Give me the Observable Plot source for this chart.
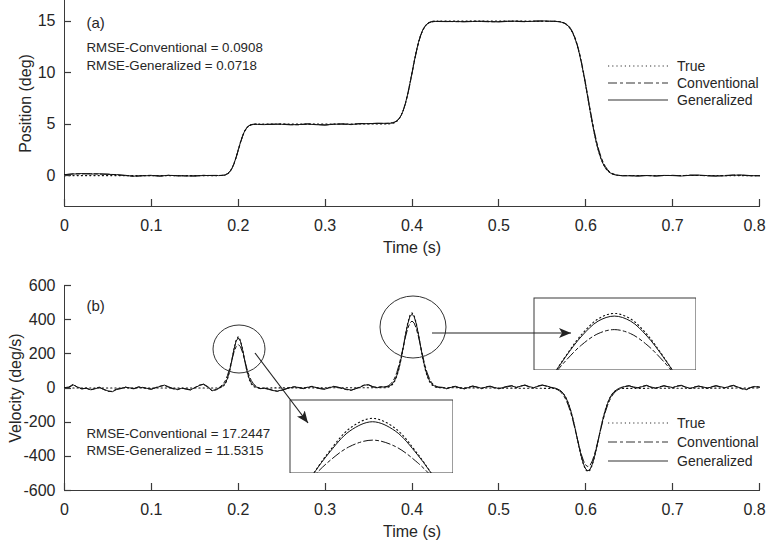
<!DOCTYPE html>
<html><head><meta charset="utf-8">
<script src="https://cdn.jsdelivr.net/npm/d3@7"></script>
<script src="https://cdn.jsdelivr.net/npm/@observablehq/plot@0.6"></script>
<style>
body{margin:0;background:#fff;}
#wrap{position:relative;width:769px;height:541px;font-family:"Liberation Sans",Arial,sans-serif;color:#262626;overflow:hidden}
#wrap > div, #wrap > svg {position:absolute;}
</style></head><body><div id="wrap"></div>
<script>
// ---------- tick labels / categories ----------
const xTicks = [0,0.1,0.2,0.3,0.4,0.5,0.6,0.7,0.8];
const posTicks = [0,5,10,15];
const velTicks = [-600,-400,-200,0,200,400,600];
const seriesNames = ["True","Conventional","Generalized"];
const panelLabels = ["(a)","(b)"];
const rmseTop = ["RMSE-Conventional = 0.0908","RMSE-Generalized = 0.0718"];
const rmseBottom = ["RMSE-Conventional = 17.2447","RMSE-Generalized = 11.5315"];

// ---------- position (deg) ----------
const posT = [0,0.01,0.02,0.03,0.04,0.05,0.06,0.07,0.08,0.09,0.1,0.11,0.12,0.13,0.14,0.15,0.16,0.17,
0.175,0.1775,0.18,0.1825,0.185,0.1875,0.19,0.1925,0.195,0.1975,0.2,0.2025,0.205,0.2075,0.21,0.2125,0.215,0.2175,0.22,0.2225,0.225,
0.23,0.24,0.25,0.26,0.27,0.28,0.29,0.3,0.31,0.32,0.33,0.34,0.35,0.36,
0.37,0.3725,0.375,0.3775,0.38,0.3825,0.385,0.3875,0.39,0.3925,0.395,0.3975,0.4,0.4025,0.405,0.4075,0.41,0.4125,0.415,0.4175,0.42,0.4225,0.425,0.4275,0.43,
0.44,0.45,0.46,0.47,0.48,0.49,0.5,0.51,0.52,0.53,0.54,0.55,0.56,
0.5625,0.565,0.5675,0.57,0.5725,0.575,0.5775,0.58,0.5825,0.585,0.5875,0.59,0.5925,0.595,0.5975,0.6,0.6025,0.605,0.6075,0.61,0.6125,0.615,0.6175,0.62,0.6225,0.625,0.6275,0.63,0.6325,0.635,0.6375,0.64,0.6425,
0.65,0.66,0.67,0.68,0.69,0.7,0.71,0.72,0.73,0.74,0.75,0.76,0.77,0.78,0.79,0.8];
const posGen = [0.1,0.15,0.2,0.15,0.18,0.12,0.1,0.0,-0.05,-0.02,0.0,-0.03,0.02,0.0,-0.04,-0.02,0.0,0.02,
0.02,0.0,0.01,0.03,0.07,0.16,0.34,0.65,1.13,1.77,2.5,3.23,3.87,4.35,4.67,4.85,4.93,4.96,4.98,4.97,4.96,
4.95,5.0,4.98,4.93,4.96,5.0,4.94,4.92,4.98,5.02,4.97,5.03,5.05,5.06,
5.08,5.07,5.09,5.12,5.18,5.3,5.5,5.84,6.35,7.04,7.9,8.9,9.98,11.07,12.08,12.95,13.64,14.15,14.5,14.72,14.85,14.92,14.95,14.97,14.96,
14.95,14.97,14.93,14.96,14.99,14.95,14.92,14.97,15.0,14.96,14.98,15.02,14.99,
14.98,14.97,14.95,14.93,14.88,14.8,14.68,14.5,14.23,13.85,13.35,12.7,11.9,10.95,9.88,8.72,7.5,6.28,5.11,4.04,3.1,2.3,1.65,1.14,0.76,0.49,0.3,0.18,0.1,0.05,0.02,0.0,-0.02,
-0.02,-0.05,0.0,-0.03,0.02,0.0,-0.04,0.03,0.05,0.0,-0.05,-0.02,0.04,0.06,0.0,-0.03];
const posConv = [0.08,0.18,0.16,0.2,0.14,0.15,0.07,0.03,-0.08,0.0,0.03,-0.06,0.04,-0.03,-0.02,-0.05,0.03,0.0,
0.0,0.03,0.02,0.04,0.09,0.19,0.37,0.67,1.12,1.73,2.44,3.17,3.81,4.31,4.65,4.85,4.95,4.99,5.0,4.99,4.97,
4.98,4.97,5.02,4.95,4.93,5.03,4.96,4.9,5.0,5.0,4.95,5.06,5.04,5.09,
5.06,5.09,5.1,5.14,5.2,5.33,5.53,5.86,6.35,7.0,7.84,8.82,9.9,10.98,12.0,12.89,13.6,14.12,14.5,14.74,14.88,14.96,14.99,15.0,14.98,
14.97,14.94,14.95,14.99,14.96,14.93,14.95,15.0,14.97,14.94,15.01,15.0,14.97,
14.99,14.98,14.96,14.95,14.9,14.84,14.72,14.55,14.29,13.92,13.43,12.79,12.0,11.06,10.0,8.85,7.65,6.45,5.3,4.24,3.3,2.5,1.84,1.3,0.9,0.6,0.38,0.24,0.14,0.08,0.04,0.01,-0.01,
0.0,-0.03,0.02,-0.05,0.0,0.03,-0.02,0.05,0.03,-0.03,-0.03,0.01,0.06,0.03,-0.02,0.0];
const posTrueT = [0,
0.175,0.1775,0.18,0.1825,0.185,0.1875,0.19,0.1925,0.195,0.1975,0.2,0.2025,0.205,0.2075,0.21,0.2125,0.215,0.2175,0.22,0.2225,0.225,
0.37,0.3725,0.375,0.3775,0.38,0.3825,0.385,0.3875,0.39,0.3925,0.395,0.3975,0.4,0.4025,0.405,0.4075,0.41,0.4125,0.415,0.4175,0.42,0.4225,0.425,0.4275,0.43,
0.5625,0.565,0.5675,0.57,0.5725,0.575,0.5775,0.58,0.5825,0.585,0.5875,0.59,0.5925,0.595,0.5975,0.6,0.6025,0.605,0.6075,0.61,0.6125,0.615,0.6175,0.62,0.6225,0.625,0.6275,0.63,0.6325,0.635,0.6375,0.64,0.6425,
0.8];
const posTrue = [0,
0,0.002,0.007,0.021,0.06,0.15,0.331,0.648,1.13,1.768,2.5,3.232,3.87,4.352,4.669,4.85,4.94,4.979,4.993,4.998,5,
5.005,5.012,5.029,5.065,5.137,5.268,5.491,5.84,6.35,7.041,7.908,8.913,10,11.087,12.092,12.959,13.65,14.16,14.509,14.732,14.863,14.935,14.971,14.988,14.995,
14.992,14.984,14.969,14.942,14.895,14.818,14.696,14.51,14.24,13.862,13.356,12.707,11.904,10.956,9.887,8.718,7.5,6.282,5.113,4.044,3.096,2.293,1.644,1.138,0.76,0.49,0.304,0.182,0.105,0.058,0.031,0.016,0.008,
0];

// ---------- velocity (deg/s) ----------
const velT = [0,0.005,0.01,0.015,0.02,0.025,0.03,0.035,0.04,0.045,0.05,0.055,0.06,0.065,0.07,0.075,0.08,0.085,0.09,0.095,0.1,0.105,0.11,0.115,0.12,0.125,0.13,0.135,0.14,0.145,0.15,0.155,0.16,0.165,0.17,
0.175,0.1775,0.18,0.1825,0.185,0.1875,0.19,0.1925,0.195,0.1975,0.2,0.2025,0.205,0.2075,0.21,0.2125,0.215,0.2175,0.22,0.2225,0.225,
0.23,0.235,0.24,0.245,0.25,0.255,0.26,0.265,0.27,0.275,0.28,0.285,0.29,0.295,0.3,0.305,0.31,0.315,0.32,0.325,0.33,0.335,0.34,0.345,0.35,0.355,0.36,0.365,
0.37,0.3725,0.375,0.3775,0.38,0.3825,0.385,0.3875,0.39,0.3925,0.395,0.3975,0.4,0.4025,0.405,0.4075,0.41,0.4125,0.415,0.4175,0.42,0.4225,0.425,0.4275,0.43,
0.435,0.44,0.445,0.45,0.455,0.46,0.465,0.47,0.475,0.48,0.485,0.49,0.495,0.5,0.505,0.51,0.515,0.52,0.525,0.53,0.535,0.54,0.545,0.55,0.555,0.56,
0.5625,0.565,0.5675,0.57,0.5725,0.575,0.5775,0.58,0.5825,0.585,0.5875,0.59,0.5925,0.595,0.5975,0.6,0.6025,0.605,0.6075,0.61,0.6125,0.615,0.6175,0.62,0.6225,0.625,0.6275,0.63,0.6325,0.635,0.6375,0.64,0.6425,
0.645,0.65,0.655,0.66,0.665,0.67,0.675,0.68,0.685,0.69,0.695,0.7,0.705,0.71,0.715,0.72,0.725,0.73,0.735,0.74,0.745,0.75,0.755,0.76,0.765,0.77,0.775,0.78,0.785,0.79,0.795,0.8];
const velGen = [0,3,18,6,-4,-2,-10,-5,3,-7,-17,-22,-9,-2,4,1,-3,5,2,-2,-6,1,9,17,7,-3,-8,-2,-5,-10,1,14,23,8,-15,
-8,-3,6,14,28,55,99,160,224,274,293,274,224,160,100,58,30,16,8,2,-4,
-2,-8,-15,-18,-12,-4,2,6,3,-2,4,8,3,-3,-6,2,8,5,-2,-8,-12,-5,4,16,20,8,2,6,
6,8,14,25,44,74,117,173,240,311,373,417,432,417,373,311,241,174,118,75,44,26,14,9,4,
2,-3,4,8,2,-4,3,10,6,-2,5,9,3,-3,2,8,12,4,10,18,8,2,10,16,12,4,
2,-1,-6,-12,-22,-38,-60,-90,-128,-176,-231,-290,-349,-403,-447,-475,-485,-475,-447,-403,-349,-290,-232,-177,-130,-92,-60,-38,-22,-12,-4,2,6,
8,12,6,2,8,14,6,0,5,12,8,3,10,14,6,-2,4,10,6,0,6,12,8,2,8,14,6,-4,-8,2,8,4];
const velConv = [2,6,22,3,-6,0,-12,-3,5,-9,-20,-19,-6,-4,6,-1,-5,7,4,-4,-8,3,11,15,4,-5,-10,0,-7,-12,3,17,21,5,-18,
-10,0,11,22,42,72,113,161,208,242,255,242,208,161,113,73,44,25,12,5,-3,
0,-6,-13,-20,-14,-6,4,8,1,-4,6,10,1,-5,-8,4,10,3,-4,-10,-14,-3,6,18,17,6,4,8,
8,12,21,36,58,91,134,185,242,299,347,380,392,380,347,299,242,184,131,88,56,33,19,11,6,
4,-5,6,10,0,-6,5,12,4,-4,7,11,1,-5,4,10,14,2,12,16,6,0,12,18,10,2,
0,-4,-10,-18,-30,-48,-72,-103,-141,-186,-237,-290,-342,-390,-427,-452,-460,-452,-427,-390,-342,-290,-237,-186,-141,-103,-72,-48,-30,-18,-9,-2,4,
10,14,4,0,10,16,4,-2,7,14,6,1,12,16,4,-4,6,12,4,-2,8,14,6,0,10,16,4,-6,-10,4,10,6];
const velTrueT = [0,
0.175,0.1775,0.18,0.1825,0.185,0.1875,0.19,0.1925,0.195,0.1975,0.2,0.2025,0.205,0.2075,0.21,0.2125,0.215,0.2175,0.22,0.2225,0.225,
0.37,0.3725,0.375,0.3775,0.38,0.3825,0.385,0.3875,0.39,0.3925,0.395,0.3975,0.4,0.4025,0.405,0.4075,0.41,0.4125,0.415,0.4175,0.42,0.4225,0.425,0.4275,0.43,
0.5625,0.565,0.5675,0.57,0.5725,0.575,0.5775,0.58,0.5825,0.585,0.5875,0.59,0.5925,0.595,0.5975,0.6,0.6025,0.605,0.6075,0.61,0.6125,0.615,0.6175,0.62,0.6225,0.625,0.6275,0.63,0.6325,0.635,0.6375,0.64,0.6425,
0.8];
const velTrue = [0,
0.3,1.0,3.3,9.4,23.6,51.3,96.8,158.8,226.1,279.5,300,279.5,226.1,158.8,96.8,51.3,23.6,9.4,3.3,1.0,0.3,
1.8,4.4,9.8,20.3,38.6,68.3,112,170.1,239.5,312.5,377.9,423.6,440,423.6,377.9,312.5,239.5,170.1,112,68.3,38.6,20.3,9.8,4.4,1.8,
-2.3,-4.4,-8.1,-14.2,-24,-38.8,-60.2,-89.7,-128.1,-175.5,-230.4,-290.1,-350.4,-405.8,-450.6,-479.8,-490,-479.8,-450.6,-405.8,-350.4,-290.1,-230.4,-175.5,-128.1,-89.7,-60.2,-38.8,-24,-14.2,-8.1,-4.4,-2.3,
0];

// ---------- styling ----------
const FONT = '"Liberation Sans", Arial, sans-serif';
const INK = "#111";
const AX = "#3a3a3a";
const TXT = "#262626";
const DOT = "1.2,3";
const DASHDOT = "9,3,3,3";

const rows = (ts, vs) => ts.map((t, i) => ({t, v: vs[i]}));
const fmt = d => String(d);

function seriesMarks(tT, vT, tM, vC, vG, extra = {}) {
  return [
    Plot.line(rows(tT, vT), {x: "t", y: "v", stroke: INK, strokeWidth: 1.1, strokeDasharray: DOT, ...extra}),
    Plot.line(rows(tM, vC), {x: "t", y: "v", stroke: INK, strokeWidth: 1, strokeDasharray: DASHDOT, ...extra}),
    Plot.line(rows(tM, vG), {x: "t", y: "v", stroke: INK, strokeWidth: 1, ...extra})
  ];
}

function panel({height, marginTop, marginBottom, yDomain, yTicks, yLabel, yLabelOffset, label, rmse, labelDy, rmseDy, dataMarks}) {
  return Plot.plot({
    width: 769, height, marginLeft: 64, marginRight: 10, marginTop, marginBottom,
    style: {fontFamily: FONT, fontSize: "16px", color: TXT, background: "transparent", overflow: "visible"},
    x: {domain: [0, 0.8]},
    y: {domain: yDomain},
    marks: [
      Plot.frame({anchor: "left", stroke: AX}),
      Plot.frame({anchor: "bottom", stroke: AX}),
      Plot.axisX({ticks: xTicks.slice(0, -1), tickSize: 0, tickPadding: 13, tickFormat: fmt, fill: TXT,
        label: "Time (s)", labelAnchor: "center", labelOffset: 46, labelArrow: "none"}),
      // last label nudged inward, as in the original figure
      Plot.axisX({ticks: xTicks.slice(-1), tickSize: 0, tickPadding: 13, tickFormat: fmt, fill: TXT, dx: -5, label: null}),
      Plot.axisY({ticks: yTicks, tickSize: 0, tickPadding: 9, tickFormat: fmt, fill: TXT,
        label: yLabel, labelAnchor: "center", labelOffset: yLabelOffset, labelArrow: "none"}),
      Plot.text([label], {text: d => d, frameAnchor: "top-left", dx: 22, dy: labelDy, textAnchor: "start", fontSize: 15, fill: TXT}),
      Plot.text([rmse[0]], {text: d => d, frameAnchor: "top-left", dx: 22, dy: rmseDy[0], textAnchor: "start", fontSize: 13.3, fill: TXT}),
      Plot.text([rmse[1]], {text: d => d, frameAnchor: "top-left", dx: 22, dy: rmseDy[1], textAnchor: "start", fontSize: 13.3, fill: TXT}),
      ...dataMarks
    ]
  });
}

const wrap = document.getElementById("wrap");

const topPlot = panel({height: 262, marginTop: 0, marginBottom: 56, yDomain: [-3, 17], yTicks: posTicks,
  yLabel: "Position (deg)", yLabelOffset: 45, label: panelLabels[0], rmse: rmseTop, labelDy: 17, rmseDy: [42, 60],
  dataMarks: seriesMarks(posTrueT, posTrue, posT, posConv, posGen)});
topPlot.style.position = "absolute"; topPlot.style.left = "0px"; topPlot.style.top = "0px";
wrap.appendChild(topPlot);

const BOT_TOP = 262;
const botPlot = panel({height: 279, marginTop: 23, marginBottom: 51, yDomain: [-600, 600], yTicks: velTicks,
  yLabel: "Velocity (deg/s)", yLabelOffset: 55, label: panelLabels[1], rmse: rmseBottom, labelDy: 15, rmseDy: [143, 160],
  dataMarks: seriesMarks(velTrueT, velTrue, velT, velConv, velGen)});
botPlot.style.position = "absolute"; botPlot.style.left = "0px"; botPlot.style.top = BOT_TOP + "px";
wrap.appendChild(botPlot);

// ---------- insets (zoomed views of velocity peaks) ----------
function inset(left, topPx, w, h, xd, yd) {
  const p = Plot.plot({
    width: w, height: h, margin: 0,
    style: {background: "white", overflow: "hidden"},
    x: {domain: xd, axis: null},
    y: {domain: yd, axis: null},
    marks: [
      ...seriesMarks(velTrueT, velTrue, velT, velConv, velGen, {curve: "catmull-rom", clip: true}),
      Plot.frame({stroke: AX, inset: 0.5})
    ]
  });
  p.style.position = "absolute"; p.style.left = left + "px"; p.style.top = topPx + "px";
  wrap.appendChild(p);
}
inset(533, 297, 163, 73, [0.3876, 0.4126], [271, 487]);
inset(289, 399, 164, 74, [0.19083, 0.20894], [186, 339]);

// ---------- annotations, inward ticks & legends ----------
const ns = "http://www.w3.org/2000/svg";
const ov = document.createElementNS(ns, "svg");
ov.setAttribute("width", 769); ov.setAttribute("height", 541);
ov.style.left = "0px"; ov.style.top = "0px"; ov.style.pointerEvents = "none";
ov.style.fontFamily = FONT;
wrap.appendChild(ov);
function el(tag, attrs, text) {
  const e = document.createElementNS(ns, tag);
  for (const k in attrs) e.setAttribute(k, attrs[k]);
  if (text != null) e.textContent = text;
  ov.appendChild(e);
  return e;
}

// inward ticks placed with each panel's own Plot scales
function inwardTicks(plot, offsetY, yTicks) {
  const sx = plot.scale("x"), sy = plot.scale("y");
  const bottom = sy.range[0] + offsetY;
  const left = sx.range[0];
  xTicks.forEach(t => {
    const px = Math.round(sx.apply(t)) + 0.5;
    el("line", {x1: px, x2: px, y1: bottom, y2: bottom - 7, stroke: AX, "stroke-width": 1.2});
  });
  yTicks.forEach(v => {
    const py = Math.round(sy.apply(v) + offsetY) + 0.5;
    el("line", {x1: left, x2: left + 7, y1: py, y2: py, stroke: AX, "stroke-width": 1.2});
  });
}
inwardTicks(topPlot, 0, posTicks);
inwardTicks(botPlot, BOT_TOP, velTicks);

const defs = el("defs", {});
const mk = document.createElementNS(ns, "marker");
mk.setAttribute("id", "ah"); mk.setAttribute("viewBox", "0 0 12 10"); mk.setAttribute("refX", "12"); mk.setAttribute("refY", "5");
mk.setAttribute("markerWidth", "12"); mk.setAttribute("markerHeight", "10"); mk.setAttribute("markerUnits", "userSpaceOnUse"); mk.setAttribute("orient", "auto");
const mp = document.createElementNS(ns, "path"); mp.setAttribute("d", "M0,0 L12,5 L0,10 L3,5 Z"); mp.setAttribute("fill", "#222");
mk.appendChild(mp); defs.appendChild(mk);

el("ellipse", {cx: 239, cy: 349, rx: 26, ry: 24, fill: "none", stroke: "#333", "stroke-width": 1});
el("ellipse", {cx: 413, cy: 327, rx: 33, ry: 31, fill: "none", stroke: "#333", "stroke-width": 1});
el("line", {x1: 432, y1: 333, x2: 571, y2: 333, stroke: "#222", "stroke-width": 1.2, "marker-end": "url(#ah)"});
el("line", {x1: 255, y1: 353, x2: 308, y2: 423, stroke: "#222", "stroke-width": 1.2, "marker-end": "url(#ah)"});

function legend(y0, dy) {
  const dashes = [DOT, DASHDOT, null];
  seriesNames.forEach((name, i) => {
    const y = y0 + i * dy;
    const a = {x1: 608, y1: y, x2: 668, y2: y, stroke: "#333", "stroke-width": 1.1};
    if (dashes[i]) a["stroke-dasharray"] = dashes[i];
    el("line", a);
    el("text", {x: 677, y: y + 5, "font-size": 14, fill: TXT}, name);
  });
}
legend(66, 17);
legend(423, 19);
</script></body></html>
